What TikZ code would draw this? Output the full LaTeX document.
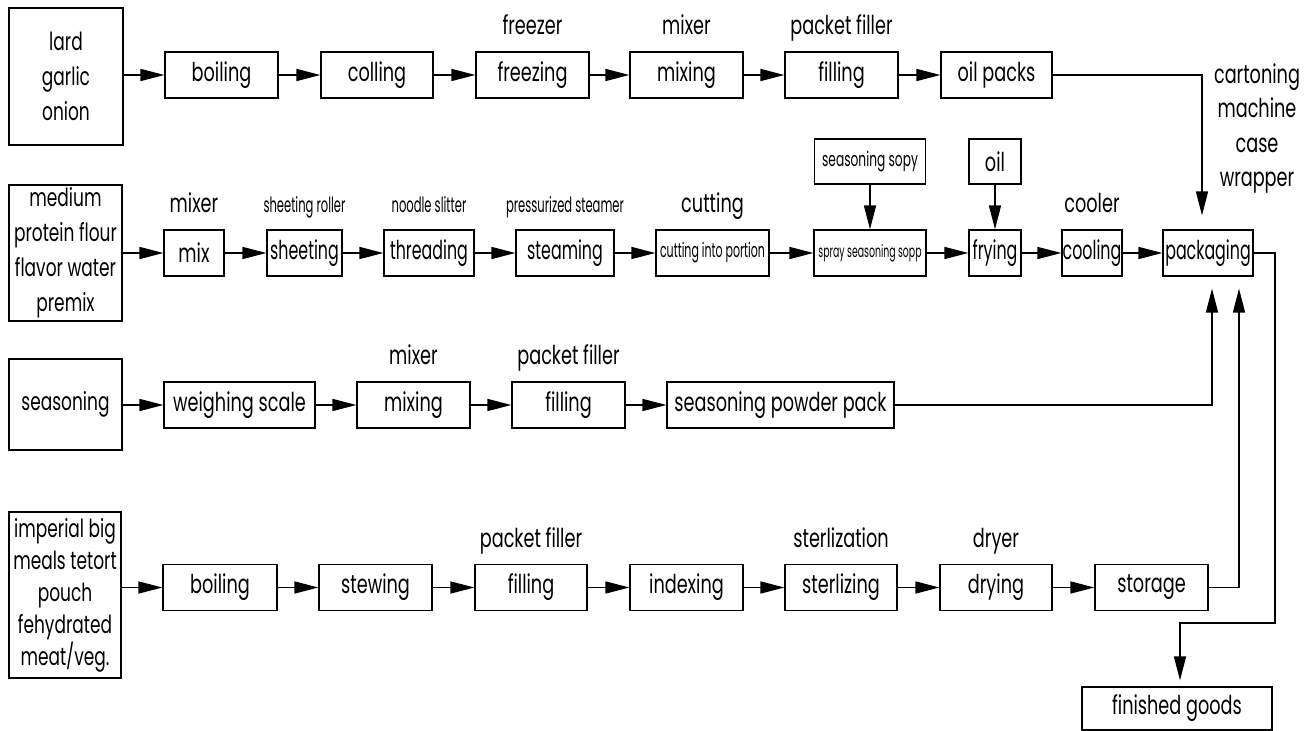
\documentclass[tikz,border=0pt]{standalone}
\usepackage{fontspec}
\setmainfont{Poppins}[FakeStretch=0.68]
\newfontfamily\narrowfont{Poppins}[FakeStretch=0.55]
\newfontfamily\snugfont{Poppins}[FakeStretch=0.61]
\usetikzlibrary{arrows.meta,positioning}

\begin{document}
\begin{tikzpicture}[x=0.5pt,y=-0.5pt,
    box/.style={draw,line width=0.6pt,minimum height=23pt,inner sep=0pt,
      font=\fontsize{13}{17}\selectfont},
    snug/.style={box,font=\snugfont\fontsize{13}{17}\selectfont},
    src/.style={box,align=center,font=\fontsize{12.5}{17.5}\selectfont},
    tag/.style={inner sep=0pt,anchor=base,font=\fontsize{13}{17}\selectfont},
    thin/.style={tag,font=\narrowfont\fontsize{10.5}{12}\selectfont},
    flow/.style={-{Triangle[length=12pt,width=6pt]},line width=0.75pt}]
  \useasboundingbox (0,0) rectangle (1314,731);

  % oil packs line
  \node[src,minimum width=57pt,minimum height=68.5pt] (lard) at (66,76.5) {lard\\garlic\\onion};
  \node[box,minimum width=56.5pt] (boil1) at (221.5,75) {boiling};
  \node[box,minimum width=56pt] (coll) at (377,75) {colling};
  \node[box,minimum width=56.5pt] (freez) at (532.5,75) {freezing};
  \node[box,minimum width=56.5pt] (mixg1) at (686.5,75) {mixing};
  \node[box,minimum width=56.5pt] (fill1) at (841.5,75) {filling};
  \node[box,minimum width=55.5pt] (oilpk) at (996.5,75) {oil packs};
  \node[tag] (freezer) at (532.5,35) {freezer};
  \node[tag] (mixer1) at (686.5,35) {mixer};
  \node[tag] (filler1) at (841.5,35) {packet filler};

  % noodle line
  \node[src,minimum width=56.5pt,minimum height=68pt] (medium) at (65.5,253)
    {medium\\protein flour\\flavor water\\premix};
  \node[box,minimum width=30pt] (mix) at (194,253) {mix};
  \node[snug,minimum width=37.5pt] (sheet) at (304.5,253) {sheeting};
  \node[snug,minimum width=45pt] (thread) at (429,253) {threading};
  \node[snug,minimum width=49pt] (steam) at (565,253) {steaming};
  \node[box,minimum width=56.5pt,font=\narrowfont\fontsize{10}{12}\selectfont] (cutp) at (712.5,253) {cutting into portion};
  \node[box,minimum width=56pt,font=\narrowfont\fontsize{8.5}{10}\selectfont] (spray) at (870,253) {spray seasoning sopp};
  \node[snug,minimum width=26pt] (fry) at (995,253) {frying};
  \node[snug,minimum width=30pt] (cool) at (1092,253) {cooling};
  \node[snug,minimum width=45pt] (pack) at (1208,253) {packaging};
  \node[box,minimum width=55.5pt,minimum height=22.5pt,font=\snugfont\fontsize{10}{12}\selectfont] (sopy) at (870,161.5) {seasoning sopy};
  \node[box,minimum width=26pt,minimum height=22.5pt] (oil) at (995,161.5) {oil};
  \node[tag] (mixer2) at (194,213) {mixer};
  \node[thin] (roller) at (304.5,213) {sheeting roller};
  \node[thin] (slitter) at (429,213) {noodle slitter};
  \node[thin] (steamer) at (565,213) {pressurized steamer};
  \node[tag] (cutting) at (712.5,213) {cutting};
  \node[tag] (cooler) at (1092,213) {cooler};
  \node[align=center,inner sep=0pt,font=\fontsize{13}{17.25}\selectfont] (carton) at (1257,128.5)
    {cartoning\\machine\\case\\wrapper};

  % seasoning line
  \node[src,minimum width=56.5pt,minimum height=45.5pt] (seas) at (65.5,404.5) {seasoning};
  \node[box,minimum width=75.5pt] (weigh) at (239.5,405) {weighing scale};
  \node[box,minimum width=56.5pt] (mixg3) at (413.5,405) {mixing};
  \node[box,minimum width=56.5pt] (fill3) at (568.5,405) {filling};
  \node[box,minimum width=113.5pt] (powder) at (780.5,405) {seasoning powder pack};
  \node[tag] (mixer3) at (413.5,365) {mixer};
  \node[tag] (filler3) at (568.5,365) {packet filler};

  % retort pouch line
  \node[src,minimum width=56pt,minimum height=83pt,font=\fontsize{12.5}{16}\selectfont] (imper) at (65,595)
    {imperial big\\meals tetort\\pouch\\fehydrated\\meat/veg.};
  \node[box,minimum width=57pt] (boil4) at (220,587.5) {boiling};
  \node[box,minimum width=56.5pt] (stew) at (375.5,587.5) {stewing};
  \node[box,minimum width=56pt] (fill4) at (531,587.5) {filling};
  \node[box,minimum width=56.5pt] (index) at (686.5,587.5) {indexing};
  \node[box,minimum width=56pt] (steril) at (841,587.5) {sterlizing};
  \node[box,minimum width=56pt] (dry) at (996,587.5) {drying};
  \node[box,minimum width=56.5pt] (store) at (1151.5,587.5) {storage};
  \node[tag] (filler4) at (531,548) {packet filler};
  \node[tag] (sterl) at (841,548) {sterlization};
  \node[tag] (dryer) at (996,548) {dryer};

  \node[box,minimum width=95pt,minimum height=21.5pt] (finished) at (1177,708.5) {finished goods};

  \foreach \a/\b in {lard/boil1,boil1/coll,coll/freez,freez/mixg1,mixg1/fill1,fill1/oilpk,
      medium/mix,mix/sheet,sheet/thread,thread/steam,steam/cutp,cutp/spray,spray/fry,fry/cool,cool/pack,
      seas/weigh,weigh/mixg3,mixg3/fill3,fill3/powder,
      imper/boil4,boil4/stew,stew/fill4,fill4/index,index/steril,steril/dry,dry/store}
    \draw[flow] (\a.east |- \b.west) -- (\b.west);
  \draw[flow] (sopy) -- (spray);
  \draw[flow] (oil) -- (fry);

  \draw[flow,shorten >=7pt] (oilpk.east) -| ([xshift=-3pt]pack.north);
  \draw[flow,shorten >=6pt] (powder.east) -| ([xshift=2pt]pack.south);
  \draw[flow,shorten >=6pt] (store.east) -| ([xshift=15.5pt]pack.south);
  \coordinate (turn) at (1275,623);
  \draw[flow,shorten >=3pt] (pack.east) -| (turn) -| ([xshift=1.5pt]finished.north);
\end{tikzpicture}
\end{document}
